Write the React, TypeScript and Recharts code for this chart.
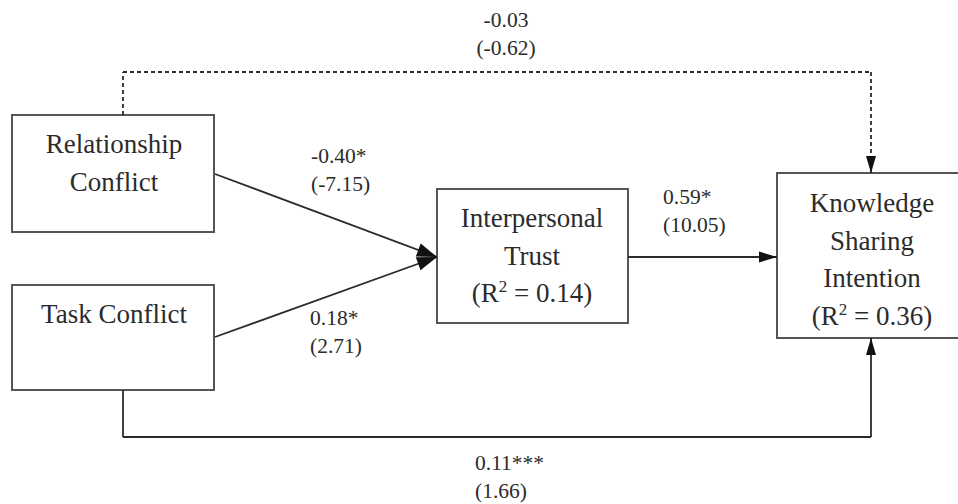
import React from "react";
import { ScatterChart, Scatter, XAxis, YAxis, ReferenceArea, ReferenceLine } from "recharts";

// constructs of the path model
const constructs = [
  "Relationship Conflict",
  "Task Conflict",
  "Interpersonal Trust",
  "Knowledge Sharing Intention",
];
const constructLines = [
  ["Relationship", "Conflict"],
  ["Task Conflict"],
  ["Interpersonal", "Trust"],
  ["Knowledge", "Sharing", "Intention"],
];
const rSquared = [null, null, "0.14", "0.36"];

// structural paths: from -> to, coefficient, t-value
const pathFrom = [0, 1, 2, 0, 1];
const pathTo = [2, 2, 3, 3, 3];
const coefficients = ["-0.40*", "0.18*", "0.59*", "-0.03", "0.11***"];
const tValues = ["(-7.15)", "(2.71)", "(10.05)", "(-0.62)", "(1.66)"];
const significant = [true, true, true, false, true];

// layout in diagram units (1 unit = 1px)
const W = 958;
const H = 504;
const boxFrames = [
  { x1: 12, x2: 214, y1: 115, y2: 232 },
  { x1: 12, x2: 214, y1: 285, y2: 390 },
  { x1: 437, x2: 628, y1: 189, y2: 323 },
  { x1: 777, x2: 966, y1: 173, y2: 338 },
];
const boxTextCenter = [114, 114, 532, 872];
const boxFirstBaseline = [153, 323, 227, 212];
const LINE_GAP = 37.5;

const pathRoutes = [
  [[215, 174], [437, 257]],
  [[215, 337], [437, 257]],
  [[628, 257], [777, 257]],
  [[123, 115], [123, 72], [871, 72], [871, 173]],
  [[123, 390], [123, 437], [871, 437], [871, 338]],
];
const pathLabelAt = [
  { x: 311, y: 163, anchor: "start" },
  { x: 310, y: 325, anchor: "start" },
  { x: 663, y: 204, anchor: "start" },
  { x: 506, y: 27, anchor: "middle" },
  { x: 475, y: 470, anchor: "start" },
];
const arrowSize = [
  [20, 14],
  [20, 14],
  [18, 11],
  [17, 10],
  [17, 10],
];

const FONT = '"Liberation Serif", "Times New Roman", serif';
const INK = "#2b2b2b";

// text items built from the arrays above
const textItems: any[] = [];
constructs.forEach((_, i) => {
  const lines = constructLines[i];
  lines.forEach((t, j) => {
    textItems.push({ x: boxTextCenter[i], y: boxFirstBaseline[i] + j * LINE_GAP, text: t, size: 27, anchor: "middle" });
  });
  if (rSquared[i]) {
    textItems.push({
      x: boxTextCenter[i],
      y: boxFirstBaseline[i] + lines.length * LINE_GAP,
      r2: rSquared[i],
      size: 27,
      anchor: "middle",
    });
  }
});
coefficients.forEach((c, i) => {
  const p = pathLabelAt[i];
  textItems.push({ x: p.x, y: p.y, text: c, size: 21.5, anchor: p.anchor });
  textItems.push({ x: p.x, y: p.y + 27.5, text: tValues[i], size: 21.5, anchor: p.anchor });
});

// arrow tips at the end of each route
const arrowTips = pathRoutes.map((r, i) => {
  const a = r[r.length - 2];
  const b = r[r.length - 1];
  const angle = (Math.atan2(b[1] - a[1], b[0] - a[0]) * 180) / Math.PI;
  return { x: b[0], y: b[1], angle, len: arrowSize[i][0], wid: arrowSize[i][1], to: constructs[pathTo[i]] };
});

const TextShape = (props: any) => {
  const { cx, cy, payload } = props;
  if (payload.r2) {
    return (
      <text x={cx} y={cy} textAnchor="middle" style={{ fontFamily: FONT }} fontSize={payload.size} fill={INK}>
        (R
        <tspan dy={-10} fontSize={17}>2</tspan>
        <tspan dy={10}>{` = ${payload.r2})`}</tspan>
      </text>
    );
  }
  return (
    <text x={cx} y={cy} textAnchor={payload.anchor} style={{ fontFamily: FONT }} fontSize={payload.size} fill={INK}>
      {payload.text}
    </text>
  );
};

const ArrowShape = (props: any) => {
  const { cx, cy, payload } = props;
  const { len, wid, angle } = payload;
  return (
    <polygon
      points={`0,0 ${-len},${-wid / 2} ${-len},${wid / 2}`}
      transform={`translate(${cx},${cy}) rotate(${angle})`}
      fill="#111"
    />
  );
};

export default function App() {
  return (
    <div style={{ position: "absolute", left: 0, top: 0, width: W, height: H, background: "#fff" }}>
      <ScatterChart width={W} height={H} margin={{ top: 0, right: 0, bottom: 0, left: 0 }}>
        <XAxis type="number" dataKey="x" domain={[0, W]} hide />
        <YAxis type="number" dataKey="y" domain={[0, H]} reversed hide />

        {boxFrames.map((b, i) => (
          <ReferenceArea
            key={`box-${i}`}
            x1={b.x1}
            x2={b.x2}
            y1={b.y1}
            y2={b.y2}
            fill="#fff"
            fillOpacity={1}
            stroke="#555"
            strokeWidth={2}
            ifOverflow="visible"
          />
        ))}

        {pathRoutes.map((r, i) =>
          r.slice(1).map((pt, j) => (
            <ReferenceLine
              key={`seg-${i}-${j}`}
              segment={[
                { x: r[j][0], y: r[j][1] },
                { x: pt[0], y: pt[1] },
              ]}
              stroke={INK}
              strokeWidth={1.8}
              strokeDasharray={significant[i] ? undefined : "4 3"}
              ifOverflow="visible"
            />
          ))
        )}

        <Scatter data={arrowTips} shape={ArrowShape} isAnimationActive={false} />
        <Scatter data={textItems} shape={TextShape} isAnimationActive={false} />
      </ScatterChart>
    </div>
  );
}
